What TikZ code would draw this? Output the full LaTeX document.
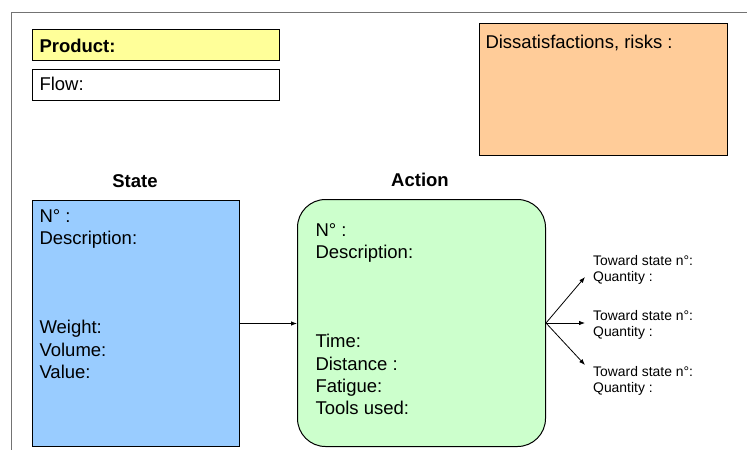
\documentclass[tikz,border=0pt]{standalone}
\usepackage{fontspec}
\setmainfont{Liberation Sans}
\usepackage{tikz}
\usetikzlibrary{arrows.meta}

\definecolor{prodyellow}{HTML}{FFFF99}
\definecolor{riskorange}{HTML}{FFCC99}
\definecolor{stateblue}{HTML}{99CCFF}
\definecolor{actiongreen}{HTML}{CCFFCC}
\newcommand{\bigtxt}{\fontsize{18.5}{22.3}\selectfont}
\newcommand{\smalltxt}{\fontsize{13.9}{16.5}\selectfont}

\tikzset{
  box/.style={draw=black, line width=1pt, inner sep=0pt, anchor=north west},
  label/.style={anchor=north west, inner sep=0pt, align=left, font=\bigtxt},
  note/.style={anchor=north west, inner sep=0pt, align=left, font=\smalltxt},
  flowarrow/.style={line width=0.8pt, -{Latex[length=6pt,width=4.5pt]}}
}

\begin{document}
\begin{tikzpicture}[x=1pt,y=-1pt]
\useasboundingbox (0,0) rectangle (747,450);
% sheet frame (top and left edges only)
\draw[black!55, line width=1pt] (747,12) -- (11.7,12) -- (11.7,450);
% header boxes
\node[box, fill=prodyellow, minimum width=247pt, minimum height=31pt] (product) at (32,29) {};
\node[label, font=\bigtxt\bfseries] (producttxt) at (39.3,38.8) {Product:};
\node[box, fill=white, minimum width=247pt, minimum height=31pt] (flow) at (32,69) {};
\node[label] (flowtxt) at (39.3,76.5) {Flow:};
\node[box, fill=riskorange, minimum width=248pt, minimum height=132pt] (risks) at (479,23) {};
\node[label] (riskstxt) at (485.3,34.8) {Dissatisfactions, risks :};
% state and action
\node[anchor=base, font=\bigtxt\bfseries] (statetitle) at (135,187) {State};
\node[anchor=base, font=\bigtxt\bfseries] (actiontitle) at (420,186) {Action};
\node[box, fill=stateblue, minimum width=207pt, minimum height=246pt] (state) at (32,200) {};
\node[label] (statetxt) at (39.3,209.2) {N° :\\Description:\\[66.9pt]Weight:\\Volume:\\Value:};
\node[box, fill=actiongreen, rounded corners=28pt, minimum width=248pt, minimum height=247pt] (action) at (297,199) {};
\node[label] (actiontxt) at (315.3,223.2) {N° :\\Description:\\[66.9pt]Time:\\Distance :\\Fatigue:\\Tools used:};
\draw[flowarrow] (state.east) -- (state.east -| action.west);
% outgoing flows
\coordinate (out1) at (585,277);
\coordinate (out2) at (585,323);
\coordinate (out3) at (585,365);
\draw[flowarrow] (action.east) -- (out1);
\draw[flowarrow] (action.east) -- (out2);
\draw[flowarrow] (action.east) -- (out3);
\node[note] (next1) at (593,255) {Toward state n°:\\Quantity :};
\node[note] (next2) at (593,310) {Toward state n°:\\Quantity :};
\node[note] (next3) at (593,366) {Toward state n°:\\Quantity :};
\end{tikzpicture}
\end{document}
